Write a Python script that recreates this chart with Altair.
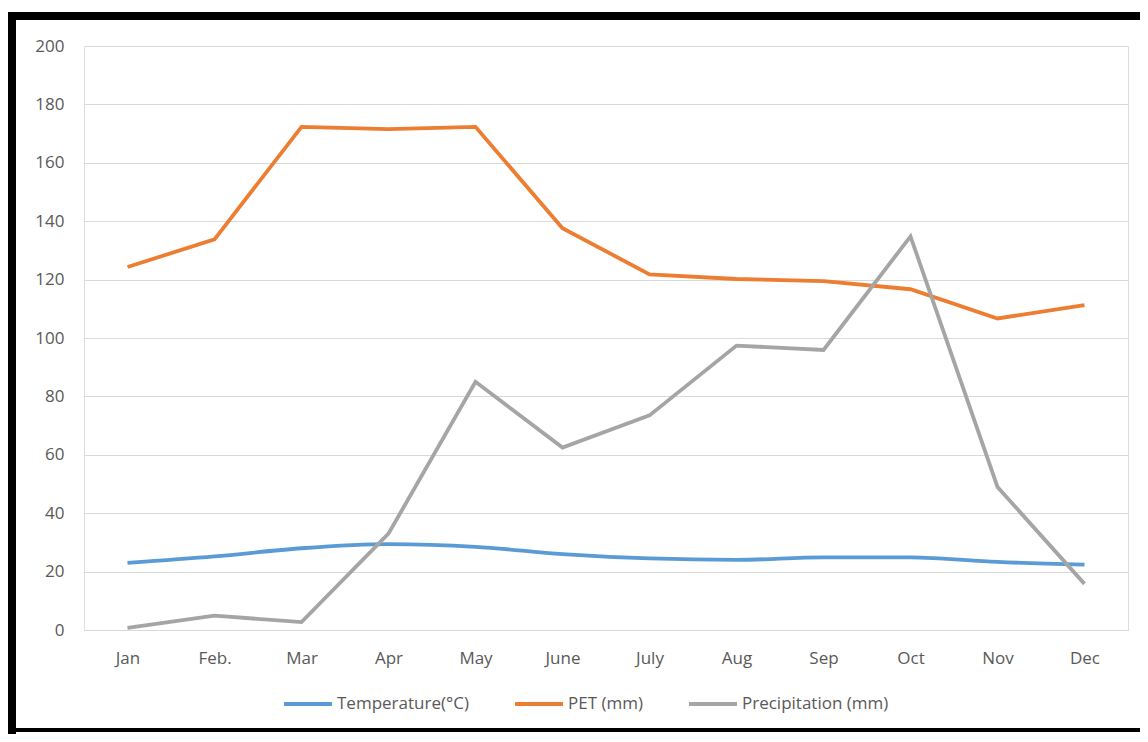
import altair as alt
import pandas as pd

months = ["Jan", "Feb.", "Mar", "Apr", "May", "June", "July", "Aug", "Sep", "Oct", "Nov", "Dec"]
temperature = [23.0, 25.2, 28.0, 29.4, 28.5, 26.0, 24.5, 24.0, 24.9, 24.9, 23.3, 22.4]
pet = [124.3, 133.8, 172.3, 171.5, 172.3, 137.6, 121.8, 120.2, 119.5, 116.7, 106.7, 111.3]
precipitation = [0.7, 4.9, 2.7, 33.0, 85.0, 62.5, 73.5, 97.4, 95.9, 134.8, 49.0, 15.8]

series_names = ["Temperature(°C)", "PET (mm)", "Precipitation (mm)"]
series_colors = ["#5B9BD5", "#ED7D31", "#A5A5A5"]
y_ticks = [0, 20, 40, 60, 80, 100, 120, 140, 160, 180, 200]

rows = []
for name, vals in zip(series_names, [temperature, pet, precipitation]):
    for m, v in zip(months, vals):
        rows.append({"month": m, "value": v, "series": name})
df = pd.DataFrame(rows)

FONT = "Open Sans"
TXT = "#595959"
FS = 17

color = alt.Color(
    "series:N",
    scale=alt.Scale(domain=series_names, range=series_colors),
    sort=series_names,
    legend=alt.Legend(
        title=None,
        orient="none",
        direction="horizontal",
        legendX=198,
        legendY=632,
        symbolType="stroke",
        symbolSize=2300,
        symbolStrokeWidth=3.8,
        labelFont=FONT,
        labelFontSize=FS,
        labelColor=TXT,
        labelOffset=3,
        columnPadding=38,
    ),
)

x = alt.X(
    "month:N",
    sort=months,
    title=None,
    axis=alt.Axis(
        labelAngle=0,
        labelFont=FONT,
        labelFontSize=FS,
        labelColor=TXT,
        labelPadding=20,
        ticks=False,
        domainColor="#D9D9D9",
        domainWidth=1,
        grid=False,
    ),
)
y = alt.Y(
    "value:Q",
    title=None,
    scale=alt.Scale(domain=[0, 200], nice=False),
    axis=alt.Axis(
        values=y_ticks,
        labelFont=FONT,
        labelFontSize=FS,
        labelColor=TXT,
        labelPadding=20,
        ticks=False,
        domain=False,
        gridColor="#D9D9D9",
        gridWidth=1,
    ),
)

base = alt.Chart(df)
temp_line = base.transform_filter(alt.datum.series == series_names[0]).mark_line(
    strokeWidth=3.8, interpolate="monotone"
).encode(x=x, y=y, color=color)
pet_line = base.transform_filter(alt.datum.series == series_names[1]).mark_line(
    strokeWidth=3.8
).encode(x=x, y=y, color=color)
prec_line = base.transform_filter(alt.datum.series == series_names[2]).mark_line(
    strokeWidth=3.8
).encode(x=x, y=y, color=color)

frame_df = pd.DataFrame({"k": [0]})
frame = alt.Chart(frame_df)
top_rule = frame.mark_rule(color="black", strokeWidth=8).encode(
    x=alt.value(-76), x2=alt.value(1070), y=alt.value(-30)
)
left_rule = frame.mark_rule(color="black", strokeWidth=8).encode(
    x=alt.value(-72), y=alt.value(-34), y2=alt.value(700)
)
bottom_rule = frame.mark_rule(color="black", strokeWidth=4).encode(
    x=alt.value(-76), x2=alt.value(1070), y=alt.value(684)
)

chart = alt.layer(temp_line, pet_line, prec_line, top_rule, left_rule, bottom_rule).properties(
    width=1044,
    height=584,
    autosize=alt.AutoSizeParams(type="none"),
    padding={"left": 76, "top": 38, "right": 12, "bottom": 104},
).configure_view(strokeWidth=0).configure(background="white")

chart.save("out.html", embed_options={"renderer": "svg", "actions": False})
